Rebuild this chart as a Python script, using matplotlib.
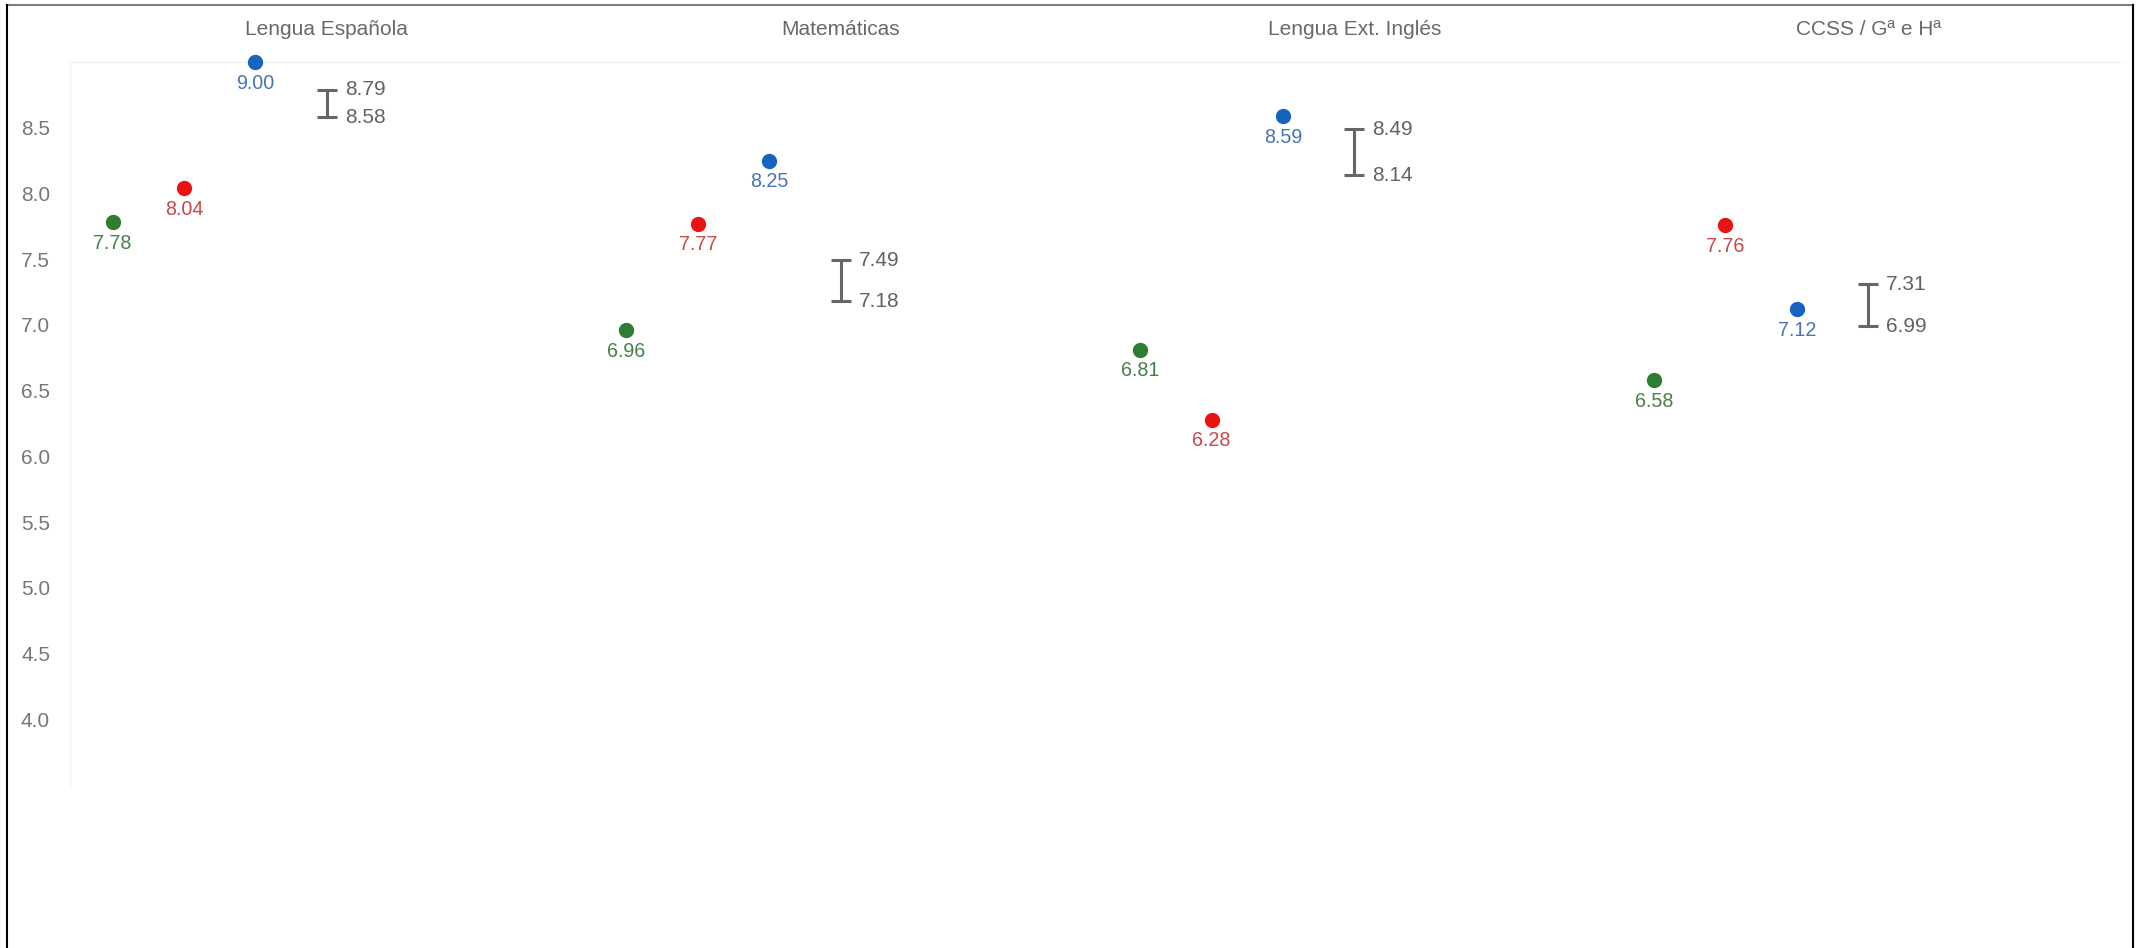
import matplotlib
matplotlib.use("Agg")
import matplotlib.pyplot as plt
from matplotlib.lines import Line2D
from matplotlib.transforms import blended_transform_factory
import numpy as np

plt.rcParams['font.family'] = ['Liberation Sans', 'DejaVu Sans']

# ---- data ----
subjects = ["Lengua Española", "Matemáticas", "Lengua Ext. Inglés", "CCSS / Gª e Hª"]
green_vals = [7.78, 6.96, 6.81, 6.58]
red_vals = [8.04, 7.77, 6.28, 7.76]
blue_vals = [9.00, 8.25, 8.59, 7.12]
range_low = [8.58, 7.18, 8.14, 6.99]
range_high = [8.79, 7.49, 8.49, 7.31]
y_ticks = [4.0, 4.5, 5.0, 5.5, 6.0, 6.5, 7.0, 7.5, 8.0, 8.5]

# ---- style ----
W, H, DPI = 2143, 948, 100
series = [
    (green_vals, "#2e7d32", "#4a7e4a", -3),
    (red_vals, "#e81414", "#c94848", -2),
    (blue_vals, "#1565c0", "#4675b6", -1),
]
step = 0.139

fig = plt.figure(figsize=(W / DPI, H / DPI), dpi=DPI)
fig.patch.set_facecolor("white")

left, right, top, bottom = 70, 2125, 62, 785
ax = fig.add_axes([left / W, 1 - bottom / H, (right - left) / W, (bottom - top) / H])
ax.set_xlim(-0.5, len(subjects) - 0.5)
ax.set_ylim(3.5, 9.0)

centers = np.arange(len(subjects))

for vals, mcol, tcol, k in series:
    xs = centers + k * step
    ax.plot(xs, vals, linestyle="none", marker="o", markersize=10,
            color=mcol, clip_on=False, zorder=3)
    for x, v in zip(xs, vals):
        ax.annotate(f"{v:.2f}", (x, v), xytext=(0, -15.2), textcoords="offset points",
                    ha="center", va="center", fontsize=14.2, color=tcol, zorder=4)

low = np.array(range_low)
high = np.array(range_high)
mid = (low + high) / 2
ax.errorbar(centers, mid, yerr=[mid - low, high - mid], fmt="none",
            ecolor="#666666", elinewidth=2.2, capsize=7.5, capthick=2.2, zorder=2)
for x, lo, hi in zip(centers, range_low, range_high):
    ax.annotate(f"{hi:.2f}", (x, hi), xytext=(13, 0), textcoords="offset points",
                ha="left", va="center", fontsize=15, color="#626262")
    ax.annotate(f"{lo:.2f}", (x, lo), xytext=(13, 0), textcoords="offset points",
                ha="left", va="center", fontsize=15, color="#626262")

# panel titles
trans = blended_transform_factory(ax.transData, ax.transAxes)
for x, s in zip(centers, subjects):
    ax.text(x, 1.0456, s, transform=trans, ha="center", va="center",
            fontsize=15, color="#696969")

ax.set_yticks(y_ticks)
ax.set_yticklabels([f"{t:.1f}" for t in y_ticks])
ax.tick_params(axis="y", length=0, pad=14.4, labelsize=15, labelcolor="#777777")
ax.set_xticks([])
for side in ["right", "bottom"]:
    ax.spines[side].set_visible(False)
for side in ["left", "top"]:
    ax.spines[side].set_color("#f4f4f4")
    ax.spines[side].set_linewidth(1)

# outer frame
def fx(px):
    return px / W

def fy(py):
    return 1 - py / H

fig.add_artist(Line2D([fx(7), fx(2133)], [fy(5), fy(5)], transform=fig.transFigure,
                      color="#7f7f7f", linewidth=1.5))
fig.add_artist(Line2D([fx(7), fx(7)], [fy(5), fy(948)], transform=fig.transFigure,
                      color="black", linewidth=1.5))
fig.add_artist(Line2D([fx(2133), fx(2133)], [fy(5), fy(948)], transform=fig.transFigure,
                      color="black", linewidth=1.5))

fig.savefig("out.png", dpi=DPI, facecolor="white")
